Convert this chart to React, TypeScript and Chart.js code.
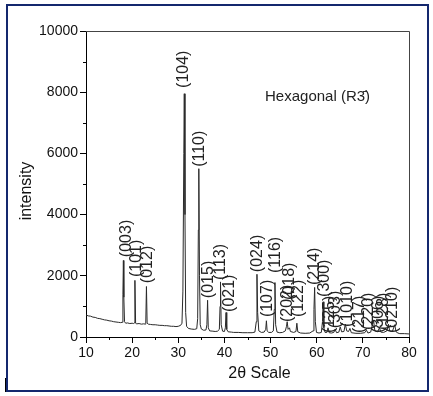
import { useEffect, useRef } from 'react';
import { Chart, registerables } from 'chart.js';

Chart.register(...registerables);

const twoTheta = [
  10, 10.5, 11, 11.5, 12, 12.5, 13, 13.5, 14, 14.5, 15, 15.5, 16, 16.5, 17, 17.5, 17.85,
  18.0, 18.1, 18.2, 18.35, 18.6, 19, 19.5, 20, 20.3, 20.45, 20.6, 20.75, 21, 21.5, 22, 22.5,
  22.9, 22.95, 23.1, 23.25, 23.5, 24, 24.5, 25, 25.5, 26, 26.5, 27, 27.5, 28, 28.5, 29, 29.5,
  30, 30.5, 30.8, 31.0, 31.2, 31.3, 31.45, 31.6, 31.8, 32.2, 32.8, 33.5, 34.0, 34.2, 34.35,
  34.45, 34.6, 34.75, 35, 35.5, 36, 36.2, 36.35, 36.5, 36.8, 37.5, 38, 38.5, 38.9, 39.05,
  39.15, 39.3, 39.6, 40.0, 40.2, 40.35, 40.5, 40.8, 41.5, 42, 43, 44, 45, 46, 46.6, 46.9,
  47.05, 47.2, 47.45, 48, 48.6, 48.95, 49.1, 49.25, 49.6, 50.2, 50.6, 50.8, 50.95, 51.1,
  51.4, 52, 52.6, 53.2, 53.45, 53.6, 53.8, 54.1, 54.3, 55, 55.5, 55.7, 55.9, 56.5, 57.5,
  58.5, 59.2, 59.4, 59.55, 59.7, 59.95, 60.5, 61.0, 61.25, 61.4, 61.55, 61.8, 62.2, 62.45,
  62.7, 63.2, 63.7, 64.0, 64.3, 64.8, 65.1, 65.4, 65.9, 66.2, 66.5, 66.9, 67.2, 67.5, 68.5,
  69.5, 70.4, 70.8, 71.1, 71.7, 72.1, 72.35, 72.6, 73.2, 73.6, 73.9, 74.5, 75.2, 75.55,
  75.8, 76.4, 76.9, 77.2, 77.6, 78, 79, 80,
];
const intensity = [
  720, 690, 680, 650, 640, 610, 600, 580, 560, 550, 530, 520, 500, 490, 480, 470, 480,
  1400, 2500, 1300, 500, 450, 460, 440, 450, 440, 460, 1850, 450, 430, 440, 420, 430,
  420, 440, 1650, 450, 420, 410, 400, 400, 390, 380, 380, 370, 370, 360, 350, 350, 340,
  350, 380, 450, 1500, 6000, 7950, 4000, 800, 350, 280, 260, 250, 270, 600, 3500,
  5500, 2000, 400, 260, 220, 230, 400, 1200, 300, 200, 190, 180, 190, 250, 1000,
  1800, 400, 190, 180, 300, 800, 250, 170, 160, 150, 150, 140, 140, 140, 160, 500,
  2050, 800, 200, 150, 160, 250, 530, 200, 150, 150, 200, 900, 1780, 400,
  160, 140, 150, 200, 350, 500, 250, 300, 180, 150, 180, 450, 170, 130, 120,
  130, 200, 900, 1620, 500, 150, 130, 150, 500, 1150, 300, 150, 150, 300,
  140, 130, 150, 250, 140, 160, 330, 170, 180, 420, 200, 180, 280, 140, 120,
  120, 140, 220, 130, 160, 420, 520, 200, 170, 300, 160, 150, 200, 420,
  200, 180, 400, 170, 130, 110, 110, 100,
];

// Miller-index annotations: text, 2θ of the label centre, intensity at label start
const peakLabels = [
  '(003)', '(101)', '(012)', '(104)', '(110)', '(015)', '(113)', '(021)', '(024)', '(107)',
  '(116)', '(202)', '(018)', '(122)', '(214)', '(300)', '(125)', '(303)', '(1010)', '(217)',
  '(220)', '(306)', '(128)', '(0210)',
];
const labelTheta = [
  18.7, 20.9, 23.4, 31.1, 34.6, 36.5, 39.2, 41.2, 47.2, 49.4,
  51.0, 53.6, 54.2, 56.0, 59.6, 61.8, 62.7, 64.0, 66.6, 69.4,
  71.2, 73.4, 74.4, 76.5,
];
const labelBase = [
  2610, 1960, 1760, 8140, 5560, 1270, 1860, 820, 2120, 650,
  2090, 490, 1210, 650, 1700, 1310, 130, 290, 330, 130,
  230, 130, 230, 130,
];

const xMinorTicks = [15, 25, 35, 45, 55, 65, 75];
const yMinorTicks = [1000, 3000, 5000, 7000, 9000];
const phaseText = 'Hexagonal (R3\u0304)';
const phaseTheta = 48.8;
const phaseIntensity = 7850;
const xTitle = '2\u03b8 Scale';
const yTitle = 'intensity';

const FONT = '"Liberation Sans", Arial, sans-serif';

const decor = {
  id: 'decor',
  beforeDraw(chart: any) {
    const ctx = chart.ctx;
    ctx.save();
    ctx.fillStyle = '#ffffff';
    ctx.fillRect(0, 0, chart.width, chart.height);
    ctx.strokeStyle = '#14286e';
    ctx.lineWidth = 2;
    ctx.strokeRect(7, 5, 421, 386);
    ctx.strokeStyle = '#000';
    ctx.lineWidth = 1;
    ctx.beginPath();
    ctx.moveTo(5.5, 378);
    ctx.lineTo(5.5, 392);
    ctx.stroke();
    ctx.restore();
  },
  afterDraw(chart: any) {
    const { ctx, chartArea: a } = chart;
    const x = chart.scales.x;
    const y = chart.scales.y;
    ctx.save();
    // frame top and right
    ctx.strokeStyle = '#444';
    ctx.lineWidth = 1;
    ctx.beginPath();
    ctx.moveTo(a.left, Math.round(a.top) + 0.5);
    ctx.lineTo(Math.round(a.right) + 0.5, Math.round(a.top) + 0.5);
    ctx.lineTo(Math.round(a.right) + 0.5, a.bottom);
    ctx.stroke();
    // minor ticks
    ctx.strokeStyle = '#000';
    ctx.beginPath();
    for (const v of xMinorTicks) {
      const px = Math.round(x.getPixelForValue(v)) + 0.5;
      ctx.moveTo(px, a.bottom);
      ctx.lineTo(px, a.bottom + 3);
    }
    for (const v of yMinorTicks) {
      const py = Math.round(y.getPixelForValue(v)) + 0.5;
      ctx.moveTo(a.left, py);
      ctx.lineTo(a.left - 3, py);
    }
    ctx.stroke();
    // peak labels
    ctx.fillStyle = '#222';
    ctx.font = `16px ${FONT}`;
    ctx.textAlign = 'left';
    ctx.textBaseline = 'middle';
    peakLabels.forEach((t, i) => {
      const px = x.getPixelForValue(labelTheta[i]);
      const py = y.getPixelForValue(labelBase[i]);
      ctx.save();
      ctx.translate(px, py);
      ctx.rotate(-Math.PI / 2);
      ctx.fillText(t, 0, 0);
      ctx.restore();
    });
    // phase annotation
    ctx.font = `15px ${FONT}`;
    ctx.fillText(phaseText, x.getPixelForValue(phaseTheta), y.getPixelForValue(phaseIntensity));
    // axis titles
    ctx.fillStyle = '#111';
    ctx.font = `16px ${FONT}`;
    ctx.textAlign = 'center';
    ctx.fillText(xTitle, (a.left + a.right) / 2 + 12, 374);
    ctx.save();
    ctx.translate(27, (a.top + a.bottom) / 2 + 7);
    ctx.rotate(-Math.PI / 2);
    ctx.fillText(yTitle, 0, 0);
    ctx.restore();
    ctx.restore();
  },
};

export default function App() {
  const ref = useRef<HTMLCanvasElement>(null);
  useEffect(() => {
    document.body.style.margin = '0';
    const canvas = ref.current;
    if (!canvas) return;
    const chart = new Chart(canvas, {
      type: 'line',
      data: {
        datasets: [
          {
            data: twoTheta.map((t, i) => ({ x: t, y: intensity[i] })),
            borderColor: '#2a2a2a',
            borderWidth: 1,
            pointRadius: 0,
            tension: 0,
            fill: false,
          },
        ],
      },
      options: {
        animation: false,
        responsive: false,
        devicePixelRatio: 1,
        layout: { padding: { left: 0, top: 31, right: 24, bottom: 0 } },
        plugins: { legend: { display: false }, tooltip: { enabled: false } },
        scales: {
          x: {
            type: 'linear',
            min: 10,
            max: 80,
            afterFit: (s: any) => { s.height = 59; },
            ticks: {
              stepSize: 10, color: '#111', padding: 2, maxRotation: 0,
              font: { size: 14, family: FONT },
              callback: (v: any) => String(v),
            },
            grid: { drawOnChartArea: false, drawTicks: true, tickLength: 6, color: '#000' },
            border: { display: true, color: '#000', width: 1 },
          },
          y: {
            type: 'linear',
            min: 0,
            max: 10000,
            afterFit: (s: any) => { s.width = 86; },
            ticks: {
              stepSize: 2000, color: '#111', padding: 2,
              font: { size: 14, family: FONT },
              callback: (v: any) => String(v),
            },
            grid: { drawOnChartArea: false, drawTicks: true, tickLength: 6, color: '#000' },
            border: { display: true, color: '#000', width: 1 },
          },
        },
      },
      plugins: [decor],
    });
    return () => chart.destroy();
  }, []);
  return <canvas ref={ref} width={433} height={396} style={{ display: 'block' }} />;
}
